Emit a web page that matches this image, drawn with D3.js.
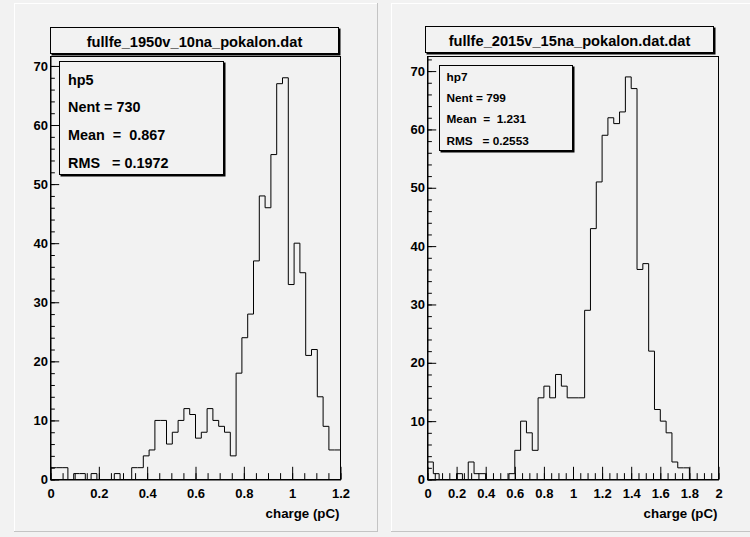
<!DOCTYPE html>
<html>
<head>
<meta charset="utf-8">
<script src="https://cdn.jsdelivr.net/npm/d3@7"></script>
<style>
  html, body { margin: 0; padding: 0; background: #f2f2f2; }
  svg { display: block; }
  text { font-family: "Liberation Sans", Arial, sans-serif; font-weight: bold; fill: #000; }
</style>
</head>
<body>
<svg id="chart" width="750" height="537"></svg>
<script>
// Bin contents of the two charge histograms (50 equal-width bins each)
const hp5Counts = [2,2,2,0,1,1,0,1,0,0, 0,1,0,0,2,2,4,5,10,10, 6,8,10,12,11,7,8,12,10,9, 8,4,18,24,28,37,48,46,55,67, 68,33,40,35,21,22,14,9,5,5];
const hp7Counts = [3,1,0,0,0,1,0,3,1,1, 0,0,0,0,1,5,10,8,5,14, 16,14,18,16,14,14,14,29,43,51, 59,62,61,63,69,67,36,37,22,12, 10,8,3,2,2,0,0,0,0,0];

// Histogram ranges
const hp5Range = [0, 1.2];
const hp7Range = [0, 2];

// Axis tick values and labels
const hp5XTicks = [0, 0.2, 0.4, 0.6, 0.8, 1, 1.2];
const hp5XLabels = ["0", "0.2", "0.4", "0.6", "0.8", "1", "1.2"];
const hp7XTicks = [0, 0.2, 0.4, 0.6, 0.8, 1, 1.2, 1.4, 1.6, 1.8, 2];
const hp7XLabels = ["0", "0.2", "0.4", "0.6", "0.8", "1", "1.2", "1.4", "1.6", "1.8", "2"];
const yTicks = [0, 10, 20, 30, 40, 50, 60, 70];
const yTickLabels = ["0", "10", "20", "30", "40", "50", "60", "70"];

// Titles and statistics
const titles = ["fullfe_1950v_10na_pokalon.dat", "fullfe_2015v_15na_pokalon.dat.dat"];
const hp5Stats = ["hp5", "Nent = 730", "Mean  =  0.867", "RMS   = 0.1972"];
const hp7Stats = ["hp7", "Nent = 799", "Mean  =  1.231", "RMS   = 0.2553"];
const xTitle = "charge (pC)";

const svg = d3.select("#chart");

// Canvas pads with raised borders
function drawPad(x0, y0, x1, y1) {
  const g = svg.append("g");
  g.append("rect").attr("x", x0).attr("y", y0).attr("width", x1 - x0).attr("height", y1 - y0)
    .attr("fill", "#f2f2f2");
  g.append("line").attr("x1", x0).attr("x2", x1).attr("y1", y0 + 0.5).attr("y2", y0 + 0.5)
    .attr("stroke", "#ffffff");
  g.append("line").attr("x1", x0 + 0.5).attr("x2", x0 + 0.5).attr("y1", y0).attr("y2", y1)
    .attr("stroke", "#ffffff");
  g.append("line").attr("x1", x0).attr("x2", x1).attr("y1", y1 - 0.5).attr("y2", y1 - 0.5)
    .attr("stroke", "#c4c4c4");
  g.append("line").attr("x1", x1 - 0.5).attr("x2", x1 - 0.5).attr("y1", y0).attr("y2", y1)
    .attr("stroke", "#c4c4c4");
}
drawPad(14, 3, 378, 532);
drawPad(391, 3, 760, 532);

// Box with a drop shadow, as used for the title and statistics panes
function drawPave(x, y, w, h) {
  svg.append("rect").attr("x", x + 1).attr("y", y + 1).attr("width", w + 1).attr("height", h + 1)
    .attr("fill", "#000");
  svg.append("rect").attr("x", x).attr("y", y).attr("width", w).attr("height", h)
    .attr("fill", "#f2f2f2").attr("stroke", "#000").attr("stroke-width", 1);
}

function drawHist(cfg) {
  const { counts, range, frame, ymax, xTicks, xLabels, title, titleBox, stats, statsBox, statsFont } = cfg;
  const x = d3.scaleLinear().domain(range).range([frame.x0, frame.x1]);
  const y = d3.scaleLinear().domain([0, ymax]).range([frame.y1, frame.y0]);

  // Frame
  svg.append("rect").attr("x", frame.x0).attr("y", frame.y0)
    .attr("width", frame.x1 - frame.x0).attr("height", frame.y1 - frame.y0)
    .attr("fill", "none").attr("stroke", "#000");

  const majX = 0.03 * (frame.y1 - frame.y0);
  const majY = 0.03 * (frame.x1 - frame.x0);
  const binW = (range[1] - range[0]) / counts.length;

  // Minor x ticks every quarter of a labelled step
  const minorX = d3.range(0, Math.round((range[1] - range[0]) / 0.05) + 1).map(i => range[0] + i * 0.05);
  svg.append("g").attr("transform", `translate(0,${frame.y1})`)
    .call(d3.axisBottom(x).tickValues(minorX).tickSizeInner(-majX / 2).tickSizeOuter(0).tickFormat(""))
    .call(g => g.select(".domain").remove())
    .call(g => g.selectAll("line").attr("stroke", "#000"));
  // Major x ticks with labels
  svg.append("g").attr("transform", `translate(0,${frame.y1})`)
    .call(d3.axisBottom(x).tickValues(xTicks).tickSizeInner(-majX).tickSizeOuter(0)
      .tickPadding(0).tickFormat((d, i) => xLabels[i]))
    .call(g => g.select(".domain").attr("stroke", "#000"))
    .call(g => g.selectAll("line").attr("stroke", "#000"))
    .call(g => g.selectAll("text").attr("y", 18.3).attr("dy", null)
      .attr("font-size", "13px").attr("font-family", "Liberation Sans, Arial, sans-serif"));

  // Minor y ticks every 2 counts
  const minorY = d3.range(0, Math.floor(ymax / 2) + 1).map(i => i * 2);
  svg.append("g").attr("transform", `translate(${frame.x0},0)`)
    .call(d3.axisLeft(y).tickValues(minorY).tickSizeInner(-majY / 2).tickSizeOuter(0).tickFormat(""))
    .call(g => g.select(".domain").remove())
    .call(g => g.selectAll("line").attr("stroke", "#000"));
  svg.append("g").attr("transform", `translate(${frame.x0},0)`)
    .call(d3.axisLeft(y).tickValues(yTicks).tickSizeInner(-majY).tickSizeOuter(0)
      .tickPadding(2.5).tickFormat((d, i) => yTickLabels[i]))
    .call(g => g.select(".domain").attr("stroke", "#000"))
    .call(g => g.selectAll("line").attr("stroke", "#000"))
    .call(g => g.selectAll("text").attr("font-size", "13px")
      .attr("font-family", "Liberation Sans, Arial, sans-serif"));

  // Histogram outline
  const pts = [[range[0], 0]];
  counts.forEach((c, i) => {
    pts.push([range[0] + i * binW, c]);
    pts.push([range[0] + (i + 1) * binW, c]);
  });
  pts.push([range[1], 0]);
  svg.append("path")
    .attr("d", d3.line().x(d => x(d[0])).y(d => y(d[1]))(pts))
    .attr("fill", "none").attr("stroke", "#000").attr("stroke-width", 1);

  // Axis title
  svg.append("text").attr("x", frame.x1 - 1).attr("y", 517.5)
    .attr("text-anchor", "end").attr("font-size", "13.3px").text(xTitle);

  // Title pane
  drawPave(titleBox.x, titleBox.y, titleBox.w, titleBox.h);
  svg.append("text").attr("x", titleBox.x + titleBox.w / 2).attr("y", titleBox.y + 19.5)
    .attr("text-anchor", "middle").attr("font-size", "14.65px").text(title);

  // Statistics pane
  drawPave(statsBox.x, statsBox.y, statsBox.w, statsBox.h);
  stats.forEach((s, i) => {
    svg.append("text").attr("x", statsBox.tx).attr("y", statsBox.ty + i * statsBox.dy)
      .attr("font-size", statsFont).attr("xml:space", "preserve")
      .style("white-space", "pre").text(s);
  });
}

drawHist({
  counts: hp5Counts, range: hp5Range,
  frame: { x0: 50.5, x1: 340.5, y0: 56.5, y1: 479.5 }, ymax: 71.6,
  xTicks: hp5XTicks, xLabels: hp5XLabels, title: titles[0],
  titleBox: { x: 50.5, y: 27.5, w: 288, h: 26 },
  stats: hp5Stats,
  statsBox: { x: 59.5, y: 61.5, w: 164, h: 113, tx: 68, ty: 84.5, dy: 27.8 },
  statsFont: "14.4px"
});

drawHist({
  counts: hp7Counts, range: hp7Range,
  frame: { x0: 427.5, x1: 718.5, y0: 56.5, y1: 479.5 }, ymax: 72.5,
  xTicks: hp7XTicks, xLabels: hp7XLabels, title: titles[1],
  titleBox: { x: 425.5, y: 26.5, w: 288, h: 26 },
  stats: hp7Stats,
  statsBox: { x: 439.5, y: 65.5, w: 133, h: 85, tx: 446.5, ty: 80.5, dy: 21.4 },
  statsFont: "11.8px"
});
</script>
</body>
</html>
